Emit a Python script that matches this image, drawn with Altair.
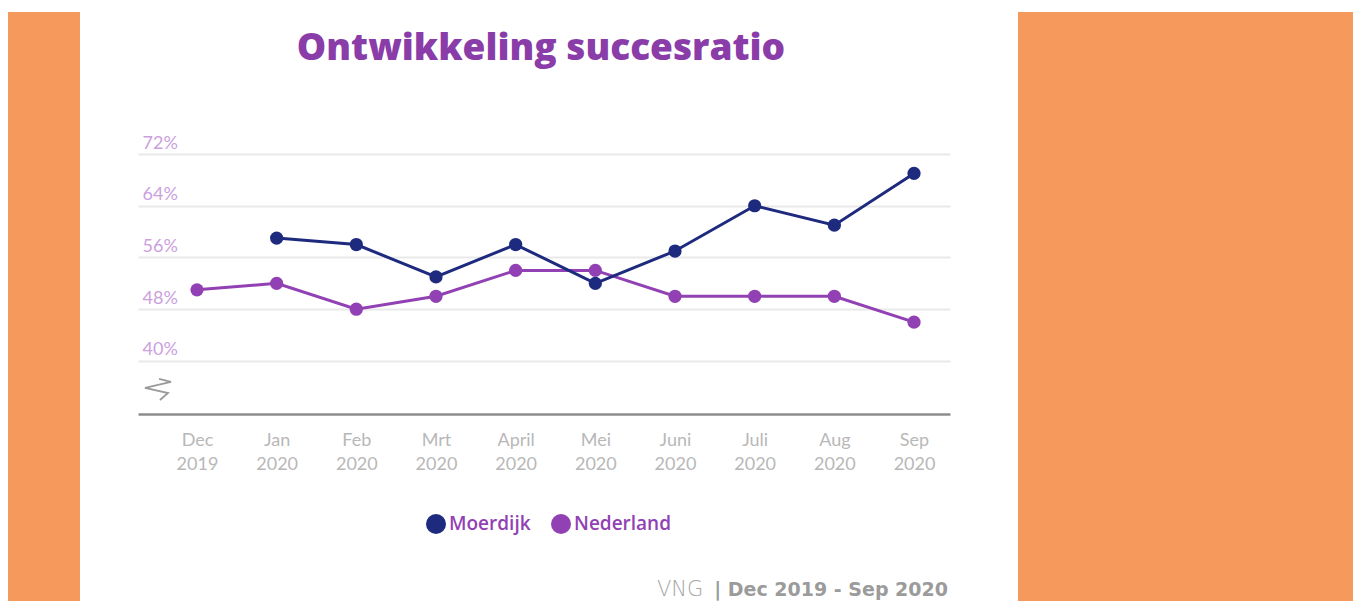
import altair as alt
import pandas as pd

months = ["Dec 2019", "Jan 2020", "Feb 2020", "Mrt 2020", "April 2020",
          "Mei 2020", "Juni 2020", "Juli 2020", "Aug 2020", "Sep 2020"]
moerdijk = [None, 59, 58, 53, 58, 52, 57, 64, 61, 69]
nederland = [51, 52, 48, 50, 54, 54, 50, 50, 50, 46]
series = ["Moerdijk", "Nederland"]
colors = ["#1e2a7e", "#9141b3"]
y_ticks = [40, 48, 56, 64, 72]
title_text = "Ontwikkeling succesratio"
source_light = "VNG"
source_bold = "| Dec 2019 - Sep 2020"

rows = []
for m, a, b in zip(months, moerdijk, nederland):
    if a is not None:
        rows.append({"maand": m, "reeks": "Moerdijk", "waarde": a})
    rows.append({"maand": m, "reeks": "Nederland", "waarde": b})
df = pd.DataFrame(rows)

ORANGE = "#f6995d"

x_enc = alt.X("maand:O", sort=months, title=None,
              scale=alt.Scale(padding=0.596, align=0.621),
              axis=alt.Axis(labelAngle=0, labelExpr="split(datum.label, ' ')",
                            labelColor="#b8b8b8", labelFont="Lato", labelFontSize=18,
                            labelLineHeight=24, labelPadding=17, ticks=False,
                            domain=True, domainColor="#8c8c8c", domainWidth=2.5,
                            grid=False))
y_enc = alt.Y("waarde:Q", title=None,
              scale=alt.Scale(domain=[31.8, 72], nice=False, zero=False),
              axis=alt.Axis(values=y_ticks, labelExpr="datum.value + '%'",
                            labelAlign="left", labelBaseline="bottom",
                            labelPadding=-4, labelOffset=-2, ticks=False, domain=False,
                            labelColor="#cc9fdf", labelFont="Lato", labelFontSize=18,
                            grid=True, gridColor="#e9e9e9", gridWidth=2))
color_scale = alt.Scale(domain=series, range=colors)

lines = alt.Chart(df).mark_line(strokeWidth=3).encode(
    x=x_enc, y=y_enc,
    color=alt.Color("reeks:N", scale=color_scale, legend=None),
    detail="reeks:N",
)
points = alt.Chart(df).mark_point(filled=True, size=175, opacity=1).encode(
    x=x_enc, y=y_enc,
    color=alt.Color("reeks:N", scale=color_scale,
                    legend=alt.Legend(title=None, orient="none", legendX=287, legendY=359,
                                      direction="horizontal", symbolType="circle",
                                      symbolSize=400, symbolOpacity=1,
                                      labelColor="#9141b3", labelFont="Open Sans",
                                      labelFontWeight=600, labelFontSize=19,
                                      labelOffset=2, columnPadding=19, padding=0)),
)

one = pd.DataFrame({"t": [title_text]})
title = alt.Chart(one).mark_text(font="Open Sans", fontWeight=800, fontSize=37,
                                 color="#8a3ca8", align="center", baseline="alphabetic").encode(
    text="t:N", x=alt.value(403), y=alt.value(-94))

deco = pd.DataFrame({"k": ["x"]})
rect_l = alt.Chart(deco).mark_rect(color=ORANGE).encode(
    x=alt.value(-130), x2=alt.value(-58), y=alt.value(-142), y2=alt.value(447))
rect_r = alt.Chart(deco).mark_rect(color=ORANGE).encode(
    x=alt.value(880), x2=alt.value(1215), y=alt.value(-142), y2=alt.value(447))

src_b = alt.Chart(pd.DataFrame({"t": [source_bold]})).mark_text(
    font="DejaVu Sans", fontWeight=700, fontSize=19, color="#9b9b9b",
    align="right", baseline="middle").encode(text="t:N", x=alt.value(810), y=alt.value(436))
src_l = alt.Chart(pd.DataFrame({"t": [source_light]})).mark_text(
    font="DejaVu Sans", fontWeight=300, fontSize=21, color="#a6a6a6",
    align="left", baseline="middle").encode(text="t:N", x=alt.value(519), y=alt.value(436))

brk = alt.Chart(deco).mark_point(
    shape="M0.08,-0.77 L1,-0.54 L-1,-0.08 L0.77,0.31 L0.15,0.85",
    size=676, stroke="#9a9a9a", strokeWidth=1.8, filled=False, opacity=1).encode(
    x=alt.value(20), y=alt.value(235))

data_layers = alt.layer(lines, points).resolve_scale(color="independent")

chart = alt.layer(rect_l, rect_r, title, data_layers, src_l, src_b, brk).properties(
    width=812, height=260,
    autosize=alt.AutoSizeParams(type="none"),
    padding={"left": 130, "top": 146, "right": 403, "bottom": 187},
    background="white",
).configure_view(stroke=None)

chart.save("out.html", embed_options={"renderer": "svg", "actions": False})
